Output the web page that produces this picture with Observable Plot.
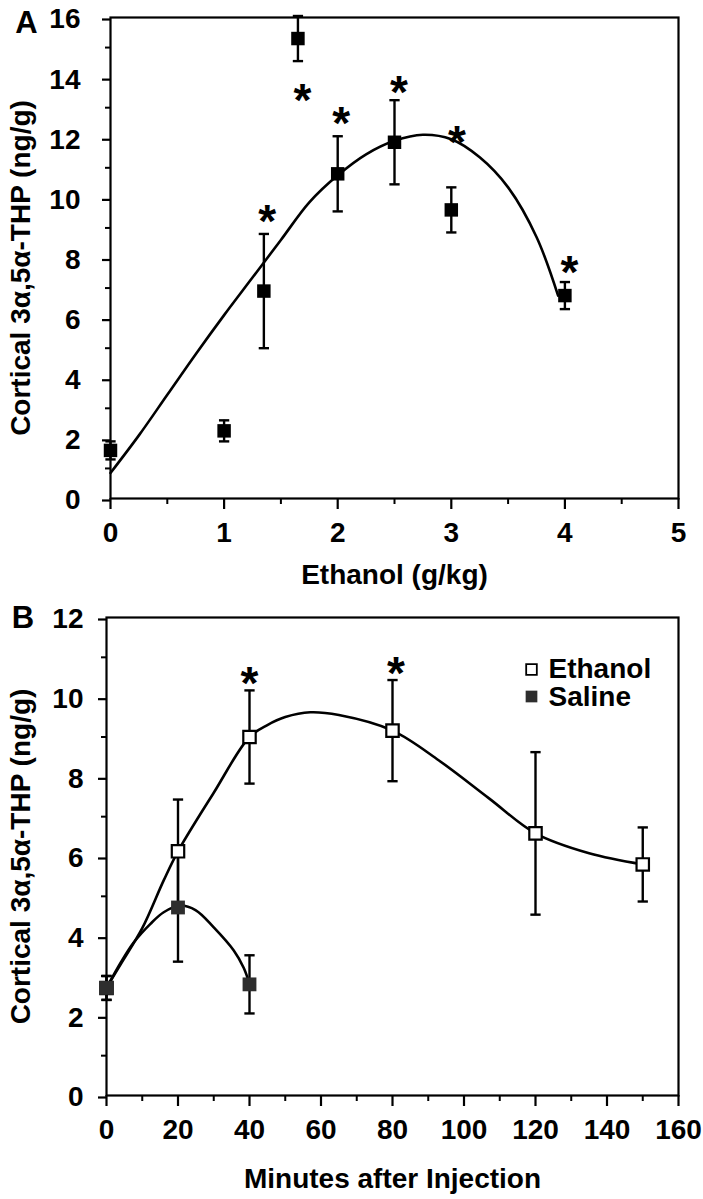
<!DOCTYPE html>
<html><head><meta charset="utf-8">
<script src="https://cdn.jsdelivr.net/npm/d3@7"></script>
<script src="https://cdn.jsdelivr.net/npm/@observablehq/plot@0.6"></script>
<style>
body{margin:0;background:#fff;}
#chart{width:703px;}
#chart svg{display:block;}
</style></head><body><div id="chart"></div>
<script>
// ---------- Panel A: dose response ----------
const doseX   = [0, 1, 1.35, 1.65, 2, 2.5, 3, 4];
const doseY   = [1.6, 2.25, 6.9, 15.3, 10.8, 11.85, 9.6, 6.75];
const doseErr = [0.3, 0.35, 1.9, 0.75, 1.25, 1.4, 0.75, 0.45];
const doseFitX = [0, 0.25, 0.5, 0.75, 1, 1.25, 1.5, 1.75, 2, 2.25, 2.5, 2.75, 3, 3.25, 3.5, 3.75, 3.94];
const doseFitY = [0.85, 2.1, 3.45, 4.8, 6.1, 7.35, 8.6, 9.85, 10.75, 11.45, 11.9, 12.1, 11.95, 11.35, 10.35, 8.7, 6.75];
const doseStarX = [1.38, 1.69, 2.03, 2.54, 3.05, 4.04];
const doseStarY = [9.6, 13.6, 12.85, 13.87, 12.2, 7.9];
const doseTicksX = [0, 1, 2, 3, 4, 5];
const doseMinorX = [0.5, 1.5, 2.5, 3.5, 4.5];
const doseTicksY = [0, 2, 4, 6, 8, 10, 12, 14, 16];
const doseMinorY = [1, 3, 5, 7, 9, 11, 13, 15];

// ---------- Panel B: time course ----------
const seriesNames = ["Ethanol", "Saline"];
const ethanolX   = [0, 20, 40, 80, 120, 150];
const ethanolY   = [2.7, 6.13, 9.0, 9.16, 6.58, 5.8];
const ethanolErr = [0.3, 1.3, 1.17, 1.27, 2.04, 0.93];
const salineX    = [0, 20, 40];
const salineY    = [2.7, 4.72, 2.79];
const salineErr  = [0.3, 1.36, 0.73];
const ethanolFitX = [0, 4, 10, 16, 20, 30, 40, 45, 50, 57, 65, 80, 93, 107, 120, 135, 150];
const ethanolFitY = [2.7, 3.3, 4.2, 5.4, 6.13, 7.6, 9.0, 9.3, 9.5, 9.62, 9.55, 9.16, 8.41, 7.46, 6.58, 6.08, 5.8];
const salineFitX = [0, 4, 7.6, 12.3, 16, 20.5, 25, 30, 35.6, 38.4, 40];
const salineFitY = [2.7, 3.34, 3.84, 4.31, 4.6, 4.77, 4.65, 4.22, 3.64, 3.2, 2.8];
const timeStarX = [40, 81];
const timeStarY = [10.62, 10.87];
const timeTicksX = [0, 20, 40, 60, 80, 100, 120, 140, 160];
const timeMinorX = [10, 30, 50, 70, 90, 110, 130, 150];
const timeTicksY = [0, 2, 4, 6, 8, 10, 12];
const timeMinorY = [1, 3, 5, 7, 9, 11];

const yTitle = "Cortical 3\u03b1,5\u03b1-THP (ng/g)";

// ---------- helpers ----------
const rows = (xs, ys, es) => xs.map((x, i) => ({x, y: ys[i], lo: ys[i] - es[i], hi: ys[i] + es[i]}));
const pts = (xs, ys) => xs.map((x, i) => ({x, y: ys[i]}));
const capSymbol = {draw(ctx, size) { const w = Math.sqrt(size) / 2; ctx.moveTo(-w, 0); ctx.lineTo(w, 0); }};
const FONT = "'Liberation Sans', Arial, Helvetica, sans-serif";
const style = {fontFamily: FONT, fontWeight: "bold", fontSize: "27px", color: "#000", background: "#fff", overflow: "visible"};
const fmt = (d) => String(d);

function errorMarks(data) {
  return [
    Plot.ruleX(data, {x: "x", y1: "lo", y2: "hi", stroke: "#000", strokeWidth: 2.4}),
    Plot.dot(data, {x: "x", y: "lo", symbol: capSymbol, r: 5.8, stroke: "#000", strokeWidth: 2.4, fill: "none"}),
    Plot.dot(data, {x: "x", y: "hi", symbol: capSymbol, r: 5.8, stroke: "#000", strokeWidth: 2.4, fill: "none"})
  ];
}
function axes(tx, mx, ty, my, padY) {
  return [
    Plot.axisY(ty, {tickSize: 8, tickPadding: padY, strokeWidth: 2.2, label: null, fontSize: 28, dy: 2, tickFormat: fmt}),
    Plot.axisY(my, {tickSize: 5, strokeWidth: 2, label: null, tickFormat: () => ""}),
    Plot.axisX(tx, {tickSize: 11, tickPadding: 13, strokeWidth: 2.2, label: null, fontSize: 28, tickFormat: fmt}),
    Plot.axisX(mx, {tickSize: 6, strokeWidth: 2, label: null, tickFormat: () => ""})
  ];
}

// ---------- Panel A ----------
const doseRows = rows(doseX, doseY, doseErr);
const A = Plot.plot({
  width: 703, height: 595,
  marginLeft: 110, marginRight: 25, marginTop: 17, marginBottom: 97,
  style,
  x: {domain: [0, 5]},
  y: {domain: [0, 16]},
  marks: [
    ...axes(doseTicksX, doseMinorX, doseTicksY, doseMinorY, 22),
    Plot.frame({stroke: "#000", strokeWidth: 2.2}),
    Plot.line(pts(doseFitX, doseFitY), {x: "x", y: "y", curve: "catmull-rom", stroke: "#000", strokeWidth: 2.6}),
    ...errorMarks(doseRows),
    Plot.dot(doseRows, {x: "x", y: "y", symbol: "square", r: 7.6, fill: "#000", stroke: "none"}),
    Plot.text(pts(doseStarX, doseStarY), {x: "x", y: "y", text: () => "*", fontSize: 46, dy: 12, fontWeight: "bold"}),
    Plot.text(["Ethanol (g/kg)"], {frameAnchor: "bottom", textAnchor: "middle", lineAnchor: "middle", dy: 77, fontSize: 28}),
    Plot.text([yTitle], {frameAnchor: "left", rotate: -90, textAnchor: "middle", lineAnchor: "middle", dx: -89, dy: 10, fontSize: 28}),
    Plot.text(["A"], {frameAnchor: "top-left", textAnchor: "middle", lineAnchor: "middle", dx: -84, dy: 5.5, fontSize: 31})
  ]
});

// ---------- Panel B ----------
const ethRows = rows(ethanolX, ethanolY, ethanolErr);
const salRows = rows(salineX, salineY, salineErr);
const B = Plot.plot({
  width: 703, height: 604,
  marginLeft: 106, marginRight: 25, marginTop: 22, marginBottom: 104,
  style,
  x: {domain: [0, 160]},
  y: {domain: [0, 12]},
  marks: [
    ...axes(timeTicksX, timeMinorX, timeTicksY, timeMinorY, 15),
    Plot.frame({stroke: "#000", strokeWidth: 2.2}),
    Plot.line(pts(ethanolFitX, ethanolFitY), {x: "x", y: "y", curve: "catmull-rom", stroke: "#000", strokeWidth: 2.6}),
    Plot.line(pts(salineFitX, salineFitY), {x: "x", y: "y", curve: "catmull-rom", stroke: "#000", strokeWidth: 2.6}),
    ...errorMarks(salRows),
    ...errorMarks(ethRows),
    Plot.dot(ethRows, {x: "x", y: "y", symbol: "square", r: 7, fill: "#fff", stroke: "#000", strokeWidth: 2.2}),
    Plot.dot(salRows, {x: "x", y: "y", symbol: "square", r: 7.8, fill: "#2e2e2e", stroke: "none"}),
    Plot.text(pts(timeStarX, timeStarY), {x: "x", y: "y", text: () => "*", fontSize: 46, dy: 12, fontWeight: "bold"}),
    // legend
    Plot.dot([seriesNames[0]], {frameAnchor: "top-right", dx: -147, dy: 52, symbol: "square", r: 6, fill: "#fff", stroke: "#000", strokeWidth: 1.8}),
    Plot.dot([seriesNames[1]], {frameAnchor: "top-right", dx: -147, dy: 79, symbol: "square", r: 6.6, fill: "#2e2e2e", stroke: "none"}),
    Plot.text([seriesNames[0]], {frameAnchor: "top-right", dx: -130, dy: 52, textAnchor: "start", lineAnchor: "middle", fontSize: 28}),
    Plot.text([seriesNames[1]], {frameAnchor: "top-right", dx: -130, dy: 80, textAnchor: "start", lineAnchor: "middle", fontSize: 28}),
    Plot.text(["Minutes after Injection"], {frameAnchor: "bottom", textAnchor: "middle", lineAnchor: "middle", dy: 84, fontSize: 28}),
    Plot.text([yTitle], {frameAnchor: "left", rotate: -90, textAnchor: "middle", lineAnchor: "middle", dx: -85, dy: 0, fontSize: 28}),
    Plot.text(["B"], {frameAnchor: "top-left", textAnchor: "middle", lineAnchor: "middle", dx: -83.5, dy: 0.5, fontSize: 31})
  ]
});

document.getElementById("chart").append(A, B);
</script>
</body></html>
